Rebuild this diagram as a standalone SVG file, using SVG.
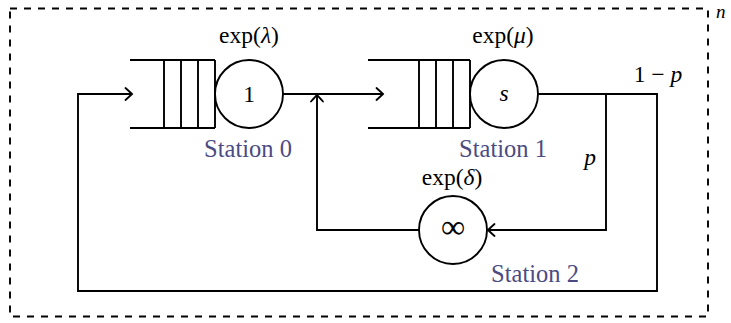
<svg xmlns="http://www.w3.org/2000/svg" width="731" height="323" viewBox="0 0 731 323">
<style>
.ln{fill:none;stroke:#000;stroke-width:1.9}
.t{font-size:23.5px;fill:#000}
.st{font-size:24.5px;fill:#4b4b82}
.i{font-style:italic}
</style>
<defs>
<marker id="arr" markerUnits="userSpaceOnUse" markerWidth="14" markerHeight="14" viewBox="-8 -7 10 14" refX="0" refY="0" orient="auto">
<path d="M-6.5,-6 Q-1,-1 0,0 Q-1,1 -6.5,6" fill="none" stroke="#000" stroke-width="1.8" stroke-linecap="round"/>
</marker>
</defs>
<g font-family="Liberation Serif, DejaVu Serif, serif">
<rect x="10" y="8.5" width="698" height="308" fill="none" stroke="#000" stroke-width="1.9" stroke-dasharray="7,7"/>
<text class="i" x="716" y="18" style="font-size:19px">n</text>
<g id="station0">
<path class="ln" d="M130,60 H215 M130,128 H215 M164,60 V128 M181,60 V128 M198,60 V128 M215,60 V128"/>
<circle class="ln" cx="249" cy="94" r="34"/>
<text class="t" x="249" y="102" text-anchor="middle">1</text>
<text class="t" x="249" y="43" text-anchor="middle">exp(<tspan class="i">λ</tspan>)</text>
<text class="st" x="248" y="157" text-anchor="middle">Station 0</text>
</g>
<g id="station1">
<path class="ln" d="M368,60 H470 M368,128 H470 M419,60 V128 M436,60 V128 M453,60 V128 M470,60 V128"/>
<circle class="ln" cx="504" cy="94" r="34"/>
<text class="t i" x="504" y="101" text-anchor="middle">s</text>
<text class="t" x="503" y="43" text-anchor="middle">exp(<tspan class="i">μ</tspan>)</text>
<text class="st" x="503" y="157" text-anchor="middle">Station 1</text>
</g>
<g id="station2">
<circle class="ln" cx="453" cy="230" r="34"/>
<text x="453" y="238" text-anchor="middle" style="font-size:34px">∞</text>
<text class="t" x="452" y="185" text-anchor="middle">exp(<tspan class="i">δ</tspan>)</text>
<text class="st" x="535" y="282" text-anchor="middle">Station 2</text>
</g>
<g id="connectors">
<path class="ln" d="M283,94 H383" marker-end="url(#arr)"/>
<path class="ln" d="M538,94 H657 V291 H78 V94 H132" marker-end="url(#arr)"/>
<path class="ln" d="M606,94 V230 H488" marker-end="url(#arr)"/>
<path class="ln" d="M419,230 H317 V95" marker-end="url(#arr)"/>
<text class="t" x="658" y="82" text-anchor="middle">1 − <tspan class="i">p</tspan></text>
<text class="t i" x="590" y="165" text-anchor="middle">p</text>
</g>
</g>
</svg>
